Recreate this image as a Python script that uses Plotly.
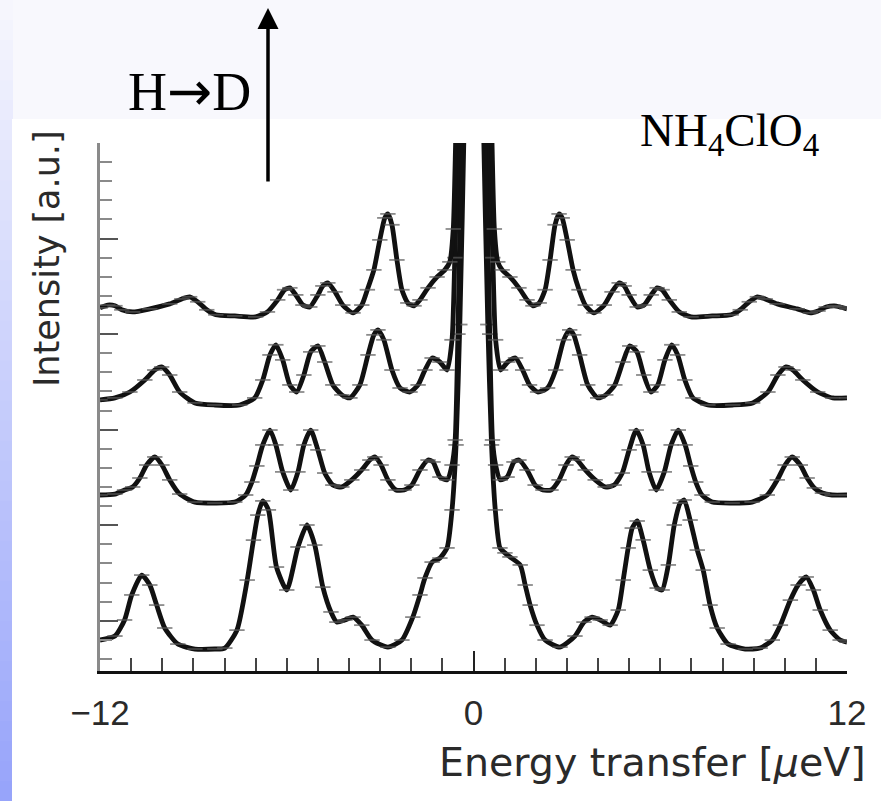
import plotly.graph_objects as go

# ---------------- data (energy transfer in µeV, intensity in a.u., offset spectra) -------------
# Spectrum A (bottom, NH4ClO4)
energy_A = [-12, -11.52, -11.21, -10.98, -10.66, -10.40, -10.18, -9.92, -9.50, -8.95, -8.31, -7.99,
            -7.60, -7.27, -7.07, -6.93, -6.77, -6.59, -6.33, -6.00, -5.64, -5.35, -5.10, -4.84,
            -4.58, -4.39, -4.13, -3.87, -3.59, -3.26, -2.75, -2.30, -1.95, -1.72, -1.56, -1.33,
            -1.08, -0.85, -0.69, -0.56, -0.44, -0.30, 0,
            0.32, 0.46, 0.58, 0.70, 0.85, 1.01, 1.17, 1.50, 1.66, 1.82, 2.04, 2.30, 2.78, 3.26,
            3.55, 3.81, 4.07, 4.39, 4.65, 4.81, 4.97, 5.10, 5.26, 5.45, 5.68, 5.90, 6.06, 6.26,
            6.45, 6.64, 6.77, 6.96, 7.19, 7.38, 7.60, 7.83, 8.18, 8.73, 9.21, 9.60, 9.86, 10.18,
            10.43, 10.69, 10.92, 11.14, 11.46, 11.78, 12]
intensity_A = [-1.01, -0.80, 0.04, 1.35, 2.39, 1.87, 0.82, -0.38, -1.22, -1.48, -1.48, -1.43,
               -0.49, 2.13, 4.22, 5.53, 6.27, 5.80, 2.81, 1.61, 3.86, 5.01, 3.96, 1.76,
               0.46, -0.07, 0.04, 0.19, -0.23, -1.01, -1.38, -1.01, 0.19, 1.35, 2.24, 3.07,
               3.28, 3.81, 5.80, 9.20, 15.5, 26.0, 60.0,
               26.0, 15.5, 9.20, 5.80, 3.81, 3.55, 3.34, 2.92, 1.87, 0.82, -0.23, -1.01, -1.38, -0.80,
               -0.07, 0.19, 0.04, -0.23, 0.56, 2.13, 3.81, 4.85, 5.22, 4.23, 2.65, 1.71, 1.61, 2.92,
               5.01, 6.16, 6.32, 5.27, 3.70, 2.65, 0.82, -0.38, -1.22, -1.48, -1.43, -1.01, -0.23, 1.08,
               1.87, 2.29, 1.61, 0.56, -0.49, -1.01, -1.12]

# Spectrum B
energy_B = [-12, -11.52, -11.21, -10.95, -10.72, -10.50, -10.24, -10.01, -9.76, -9.44, -8.95, -8.31,
            -7.67, -7.32, -7.12, -6.96, -6.77, -6.54, -6.35, -6.13, -5.87, -5.64, -5.45, -5.23,
            -5.00, -4.78, -4.52, -4.23, -3.91, -3.59, -3.33, -3.17, -2.97, -2.75, -2.49, -2.23,
            -1.98, -1.72, -1.46, -1.30, -1.08, -0.85, -0.69, -0.59, -0.50, -0.38, 0,
            0.40, 0.52, 0.61, 0.71, 0.86, 1.08, 1.30, 1.46, 1.72, 1.98, 2.23, 2.49, 2.75, 2.97,
            3.17, 3.33, 3.59, 3.91, 4.23, 4.52, 4.78, 5.00, 5.23, 5.45, 5.64, 5.87, 6.13, 6.35,
            6.58, 6.80, 6.98, 7.14, 7.34, 7.67, 8.31, 8.95, 9.44, 9.76, 10.01, 10.24, 10.50, 10.72,
            10.95, 11.21, 11.52, 12]
intensity_B = [6.58, 6.63, 6.84, 7.00, 7.47, 8.15, 8.57, 8.15, 7.37, 6.63, 6.21, 6.16,
               6.21, 6.58, 7.26, 8.10, 9.20, 9.98, 9.20, 7.79, 6.84, 7.79, 9.20, 9.98,
               8.94, 7.73, 7.10, 7.00, 7.37, 7.89, 8.41, 8.57, 8.15, 7.37, 6.84, 6.84,
               7.10, 7.89, 8.41, 8.31, 7.52, 7.37, 8.15, 9.46, 15.0, 26.0, 60.0,
               26.0, 15.0, 9.46, 8.15, 7.37, 7.52, 8.31, 8.41, 7.89, 7.10, 6.84, 6.84, 7.37, 8.15,
               8.57, 8.41, 7.89, 7.37, 7.00, 7.10, 7.73, 8.94, 9.98, 9.20, 7.79, 6.84, 7.79, 9.20,
               9.98, 9.20, 8.10, 7.26, 6.58, 6.21, 6.16, 6.21, 6.58, 7.37, 8.15, 8.57, 8.15, 7.47,
               6.95, 6.68, 6.58, 6.58]

# Spectrum C
energy_C = [-12, -11.52, -11.04, -10.56, -10.24, -10.02, -9.76, -9.44, -8.95, -8.31, -7.51, -7.03,
            -6.77, -6.54, -6.35, -6.13, -5.90, -5.68, -5.45, -5.23, -5.00, -4.78, -4.52, -4.23,
            -3.97, -3.65, -3.39, -3.20, -3.07, -2.88, -2.62, -2.36, -2.04, -1.78, -1.56, -1.33,
            -1.08, -0.85, -0.69, -0.60, -0.48, 0,
            0.50, 0.62, 0.71, 0.87, 1.10, 1.35, 1.58, 1.80, 2.06, 2.38, 2.64, 2.90, 3.09, 3.22,
            3.41, 3.67, 3.99, 4.25, 4.54, 4.80, 5.02, 5.25, 5.47, 5.70, 5.92, 6.15, 6.37, 6.56,
            6.79, 7.05, 7.53, 8.33, 8.97, 9.46, 9.78, 10.04, 10.26, 10.58, 11.06, 11.54, 12]
intensity_C = [11.56, 11.66, 11.97, 12.60, 13.12, 13.28, 12.86, 11.97, 11.40, 11.29, 11.29, 11.66,
               12.60, 13.91, 14.44, 13.65, 12.34, 11.97, 12.86, 14.07, 14.38, 13.54, 12.34, 11.82,
               11.66, 12.34, 13.91, 14.96, 15.22, 14.70, 13.12, 12.18, 11.97, 12.34, 13.12, 13.75,
               13.54, 13.12, 14.70, 19.0, 26.0, 60.0,
               26.0, 19.0, 14.70, 13.12, 13.54, 13.75, 13.12, 12.34, 11.97, 12.18, 13.12, 14.70, 15.22, 14.96,
               13.91, 12.34, 11.66, 11.82, 12.34, 13.54, 14.38, 14.07, 12.86, 11.97, 12.34, 13.65, 14.44, 13.91,
               12.60, 11.66, 11.29, 11.29, 11.40, 11.97, 12.86, 13.28, 13.12, 12.60, 11.97, 11.66, 11.66]

# Spectrum D (top, most deuterated)
energy_D = [-12, -11.75, -11.52, -11.30, -10.95, -10.40, -9.76, -9.37, -9.12, -8.86, -8.57, -8.28,
            -7.67, -7.00, -6.62, -6.29, -6.07, -5.90, -5.71, -5.48, -5.26, -5.00, -4.84, -4.68,
            -4.45, -4.20, -3.87, -3.59, -3.41, -3.20, -3.01, -2.85, -2.75, -2.62, -2.46, -2.30,
            -2.11, -1.91, -1.72, -1.46, -1.17, -0.92, -0.76, -0.65, -0.56, 0,
            0.58, 0.67, 0.78, 0.92, 1.17, 1.46, 1.72, 1.91, 2.11, 2.30, 2.46, 2.62, 2.75,
            2.85, 3.01, 3.20, 3.39, 3.59, 3.87, 4.20, 4.45, 4.68, 4.84, 5.00, 5.26, 5.48, 5.71,
            5.90, 6.06, 6.29, 6.61, 6.99, 7.67, 8.28, 8.57, 8.86, 9.12, 9.37, 9.76, 10.40, 10.82,
            11.07, 11.33, 11.59, 11.78, 12]
intensity_D = [16.37, 16.52, 16.48, 16.27, 16.16, 16.32, 16.58, 16.84, 16.95, 16.69, 16.27, 16.01,
               15.95, 15.90, 16.16, 16.79, 17.32, 17.42, 17.05, 16.52, 16.42, 17.05, 17.52, 17.68,
               17.21, 16.52, 16.11, 16.52, 17.32, 18.36, 19.93, 21.08, 21.29, 20.72, 18.88, 17.32,
               16.63, 16.48, 16.79, 17.42, 17.99, 18.36, 18.78, 20.5, 26.0, 60.0,
               26.0, 20.5, 18.78, 18.36, 17.99, 17.42, 16.79, 16.48, 16.63, 17.32, 18.88, 20.72, 21.29,
               21.08, 19.93, 18.36, 17.32, 16.52, 16.11, 16.52, 17.21, 17.68, 17.52, 17.05, 16.42, 16.52, 17.05,
               17.42, 17.32, 16.79, 16.16, 15.90, 15.95, 16.01, 16.27, 16.69, 16.95, 16.84, 16.58, 16.32, 16.11,
               16.21, 16.42, 16.48, 16.42, 16.32]

x_tick_values = [-12, 0, 12]
x_tick_labels = ["\u221212", "0", "12"]

# ---------------- figure -------------
W, H = 881, 801
L, R, T, B = 100, 34, 143, 130
PW, PH = W - L - R, H - T - B


def px(xpix):
    return (xpix - L) / PW


def py(ypix):
    return (H - B - ypix) / PH


fig = go.Figure()
for xs, ys in [(energy_A, intensity_A), (energy_B, intensity_B),
               (energy_C, intensity_C), (energy_D, intensity_D)]:
    fig.add_trace(go.Scatter(
        x=xs, y=ys, mode="lines+markers",
        line=dict(color="#111111", width=4.8, shape="spline", smoothing=0.6),
        marker=dict(symbol="line-ew", size=11,
                    line=dict(color="rgba(90,90,90,0.7)", width=1.8)),
        showlegend=False, hoverinfo="skip"))

shapes = []
# slide background: left gradient strip
N = 40
c0 = (247, 247, 253)
c1 = (150, 163, 250)
for i in range(N):
    t = (i + 0.5) / N
    col = tuple(round(c0[k] + (c1[k] - c0[k]) * t) for k in range(3))
    y_top = H * i / N
    y_bot = H * (i + 1) / N + 1
    shapes.append(dict(type="rect", xref="paper", yref="paper", layer="below",
                       x0=px(0), x1=px(13), y0=py(y_bot), y1=py(y_top),
                       fillcolor="rgb(%d,%d,%d)" % col, line=dict(width=0)))
# white picture area
shapes.append(dict(type="rect", xref="paper", yref="paper", layer="below",
                   x0=px(12), x1=px(W + 2), y0=py(H + 2), y1=py(119),
                   fillcolor="white", line=dict(width=0)))

annotations = [
    dict(text='H<span style="font-family:DejaVu Sans">\u2192</span>D',
         xref="paper", yref="paper", x=px(189), y=py(91),
         xanchor="center", yanchor="middle", showarrow=False,
         font=dict(family="Liberation Serif", size=54, color="black")),
    dict(text="NH<sub>4</sub>ClO<sub>4</sub>", xref="paper", yref="paper", x=px(729), y=py(134),
         xanchor="center", yanchor="middle", showarrow=False,
         font=dict(family="Liberation Serif", size=47, color="black")),
    dict(text="", xref="paper", yref="paper", x=px(268), y=py(8),
         showarrow=True, axref="pixel", ayref="pixel", ax=0, ay=175,
         arrowhead=2, arrowsize=1.2, arrowwidth=3.5, arrowcolor="black"),
    dict(text="Energy transfer [<i>\u03bc</i>eV]", xref="paper", yref="paper",
         x=px(868), y=py(762), xanchor="right", yanchor="middle", showarrow=False,
         font=dict(family="DejaVu Sans", size=39.5, color="#2a2a2a")),
    dict(text="Intensity [a.u.]", xref="paper", yref="paper", textangle=-90,
         x=px(47), y=py(259), xanchor="center", yanchor="middle", showarrow=False,
         font=dict(family="DejaVu Sans", size=35, color="#2a2a2a")),
]

fig.update_layout(
    width=W, height=H,
    margin=dict(l=L, r=R, t=T, b=B, pad=0),
    paper_bgcolor="#f8f8fd",
    plot_bgcolor="white",
    shapes=shapes,
    annotations=annotations,
    xaxis=dict(range=[-12, 12], showgrid=False, zeroline=False,
               showline=True, linecolor="#111111", linewidth=2.5,
               ticks="inside", ticklen=20, tickwidth=2, tickcolor="#222222",
               tickvals=x_tick_values, ticktext=x_tick_labels,
               ticklabelstandoff=9,
               tickfont=dict(family="Liberation Sans", size=35, color="#2a2a2a"),
               minor=dict(dtick=1, tick0=0, ticks="inside", ticklen=13, tickwidth=2,
                          tickcolor="#444444"),
               fixedrange=True),
    yaxis=dict(range=[-2.63, 25.0], showgrid=False, zeroline=False,
               showline=True, linecolor="#8a8a8a", linewidth=2.5,
               ticks="inside", ticklen=18, tickwidth=2, tickcolor="#555555",
               dtick=5, tick0=0, showticklabels=False,
               minor=dict(dtick=1, tick0=0, ticks="inside", ticklen=12, tickwidth=2,
                          tickcolor="#8a8a8a"),
               fixedrange=True),
)

fig.write_html("out.html")
